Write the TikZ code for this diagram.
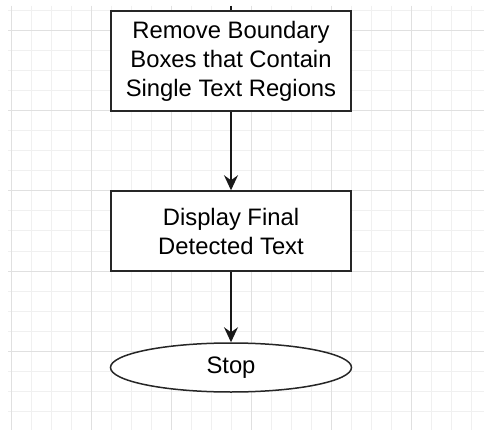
\documentclass[tikz,border=0pt]{standalone}
\usepackage{fontspec}
\setmainfont{Liberation Sans}
\usetikzlibrary{shapes.geometric,arrows.meta}
\begin{document}
\begin{tikzpicture}[x=1pt,y=-1pt,
  stepbox/.style={draw=black!85,line width=1.5pt,fill=white,rectangle,minimum width=240pt,inner sep=0pt,align=center,font=\fontsize{23.8}{29}\selectfont},
  stopbox/.style={draw=black!85,line width=1.5pt,fill=white,ellipse,minimum width=241pt,minimum height=49pt,inner sep=0pt,font=\fontsize{23.8}{29}\selectfont},
  link/.style={draw=black!90,line width=1.5pt,-{Stealth[length=15pt,width=14pt,inset=5pt]}},
  minorline/.style={draw=black!6,line width=1pt},
  majorline/.style={draw=black!12,line width=1pt}]
\useasboundingbox (0,0) rectangle (484,430);
\fill[white] (0,0) rectangle (484,430);
% grid
\begin{scope}
\clip (8,6) rectangle (484,430);
\foreach \x in {11,31,...,471} \draw[minorline] (\x,6) -- (\x,430);
\foreach \y in {11,31,...,431} \draw[minorline] (8,\y) -- (484,\y);
\foreach \x in {11,91,...,411} \draw[majorline] (\x,6) -- (\x,430);
\foreach \y in {31,111,...,351} \draw[majorline] (8,\y) -- (484,\y);
\end{scope}
% nodes
\node[stepbox,minimum height=100pt] (remove) at (231,61) {Remove Boundary\\Boxes that Contain\\Single Text Regions};
\node[stepbox,minimum height=80pt] (display) at (231,231) {Display Final\\Detected Text};
\node[stopbox] (stop) at (231,367.5) {Stop};
\coordinate (incoming) at (231,6);
% connectors
\draw[draw=black!90,line width=1.5pt] (incoming) -- (remove.north);
\draw[link] (remove.south) -- (display.north);
\draw[link] (display.south) -- (stop.north);
\end{tikzpicture}
\end{document}
